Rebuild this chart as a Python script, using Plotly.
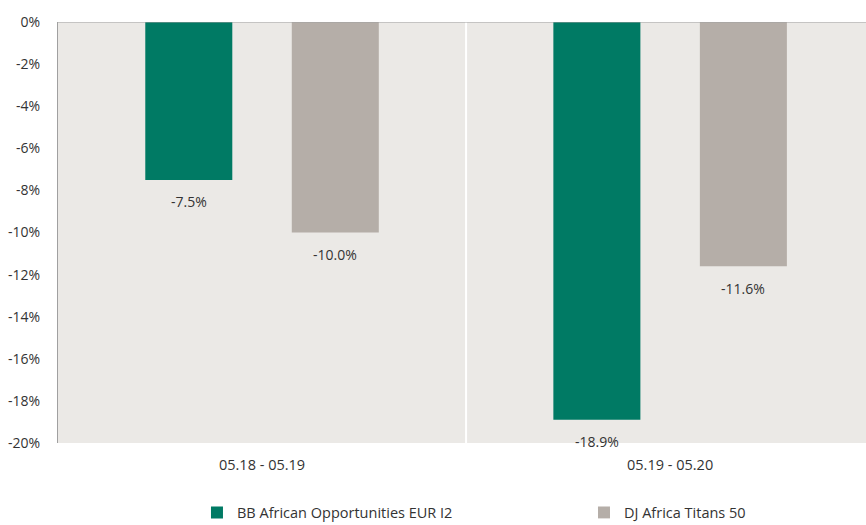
import plotly.graph_objects as go

categories = ["05.18 - 05.19", "05.19 - 05.20"]
fund_name = "BB African Opportunities EUR I2"
index_name = "DJ Africa Titans 50"
fund_values = [-7.5, -18.9]
index_values = [-10.0, -11.6]
y_ticks = [0, -2, -4, -6, -8, -10, -12, -14, -16, -18, -20]

GREEN = "#007A64"
GREY = "#B5AEA8"
TXT = "#333333"
FONT = "Open Sans, Noto Sans, sans-serif"
BARGAP = 0.282

fig = go.Figure()
series = [(fund_name, fund_values, GREEN), (index_name, index_values, GREY)]
for name, vals, col in series:
    fig.add_trace(go.Bar(
        x=categories, y=vals, name=name, marker=dict(color=col, line=dict(width=0)),
    ))

slot = (1 - BARGAP) / 2
for si, (name, vals, col) in enumerate(series):
    off = (si - 0.5) * slot
    for ci, v in enumerate(vals):
        fig.add_annotation(x=ci + off, y=v, xref="x", yref="y", text=f"{v:.1f}%",
                           showarrow=False, yshift=-22, yanchor="middle",
                           font=dict(size=14, color=TXT, family=FONT))

fig.add_shape(type="line", xref="x", yref="paper", x0=0.5, x1=0.5, y0=0, y1=1,
              line=dict(color="white", width=2), layer="below")

fig.update_layout(
    width=866, height=525,
    margin=dict(l=58, r=0, t=22, b=82, autoexpand=False),
    paper_bgcolor="white", plot_bgcolor="#EBE9E6",
    barmode="group", bargap=BARGAP, bargroupgap=0.406,
    font=dict(family=FONT, size=14, color=TXT),
    showlegend=True,
    legend=dict(orientation="h", x=0.172, xanchor="left", y=-0.165, yanchor="middle",
                entrywidth=342, entrywidthmode="pixels", itemwidth=30,
                font=dict(size=14.5, color=TXT, family=FONT), traceorder="normal"),
    xaxis=dict(range=[-0.5, 1.48], showgrid=False, showline=False, ticks="",
               ticklabelstandoff=11, tickfont=dict(size=14.5, color=TXT)),
    yaxis=dict(range=[-20, 0], tickvals=y_ticks, ticktext=[f"{v}%" for v in y_ticks],
               showgrid=False, zeroline=False, showline=True, linecolor="#A0A0A0",
               linewidth=1, ticks="", ticklabelstandoff=14,
               tickfont=dict(size=14, color=TXT)),
)
fig.add_shape(type="line", xref="paper", yref="y", x0=0, x1=1, y0=0, y1=0,
              line=dict(color="#A0A0A0", width=1))

fig.write_html("out.html", config={"displayModeBar": False},
               post_script="document.body.style.margin='0';document.body.style.overflow='hidden';")
